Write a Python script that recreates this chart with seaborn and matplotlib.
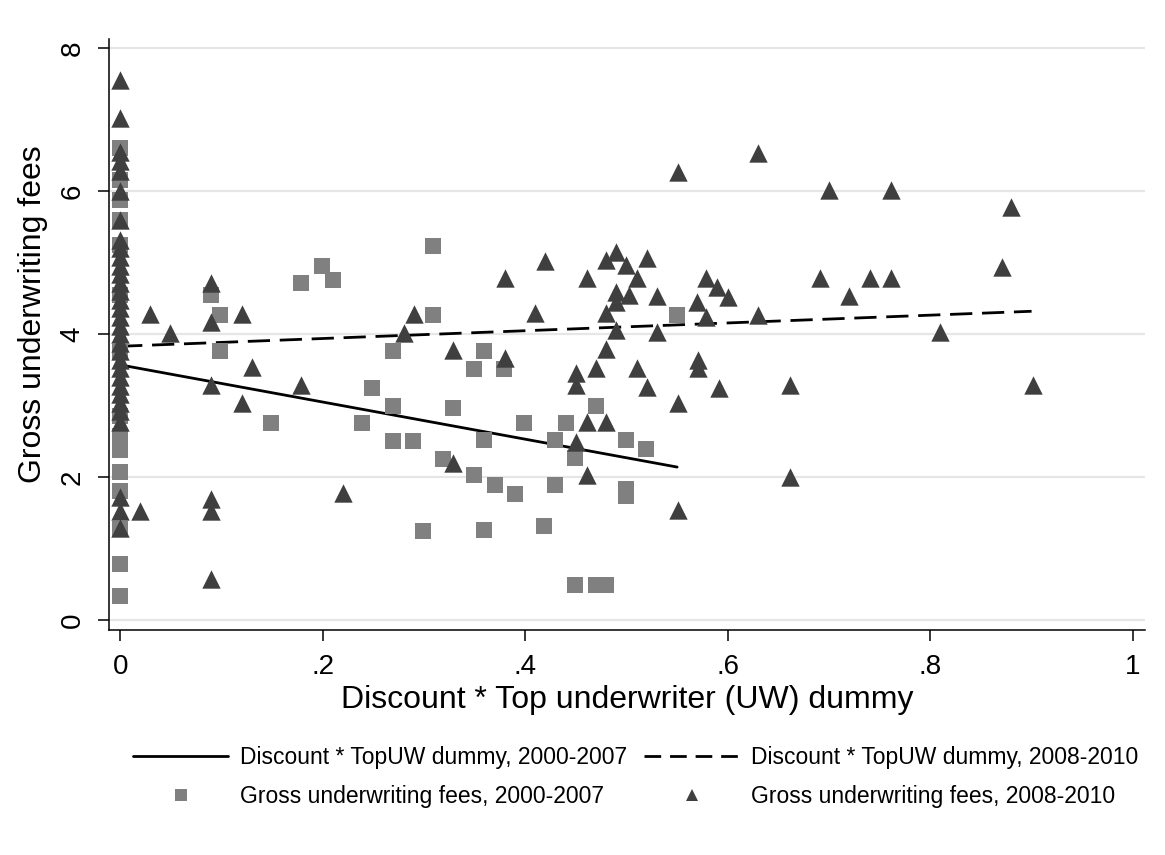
import matplotlib
matplotlib.use("Agg")
import matplotlib.pyplot as plt
import seaborn as sns
import numpy as np
import pandas as pd
from matplotlib.lines import Line2D

# ---------------- data ----------------
sq_x0_y = [6.6, 6.15, 5.88, 5.6, 5.25, 4.55, 3.75, 2.85, 2.58, 2.38, 2.07, 1.8, 1.27, 0.79, 0.33]
sq_x = [0.09, 0.099, 0.099, 0.149, 0.179, 0.199, 0.21, 0.239, 0.249, 0.269, 0.269, 0.269,
        0.289, 0.299, 0.309, 0.309, 0.319, 0.329, 0.349, 0.349, 0.359, 0.359, 0.359, 0.37,
        0.379, 0.39, 0.399, 0.419, 0.429, 0.429, 0.44, 0.449, 0.449, 0.47, 0.47, 0.48,
        0.5, 0.5, 0.5, 0.519, 0.55]
sq_y = [4.55, 4.27, 3.77, 2.75, 4.72, 4.95, 4.76, 2.75, 3.25, 3.77, 3.0, 2.51,
        2.51, 1.25, 5.23, 4.27, 2.25, 2.96, 3.51, 2.03, 3.77, 2.52, 1.26, 1.89,
        3.51, 1.76, 2.75, 1.31, 2.52, 1.89, 2.75, 2.26, 0.49, 3.0, 0.49, 0.49,
        2.52, 1.83, 1.73, 2.39, 4.27]

tri_x0_y = [7.56, 7.02, 6.55, 6.42, 6.28, 6.01, 5.6, 5.32, 5.2, 5.08, 4.96, 4.84, 4.72, 4.6,
            4.48, 4.36, 4.24, 4.12, 4.0, 3.88, 3.76, 3.64, 3.52, 3.4, 3.28, 3.16, 3.04, 2.92,
            2.77, 1.72, 1.52, 1.29]
tri_x = [0.02, 0.029, 0.049, 0.09, 0.09, 0.09, 0.09, 0.09, 0.09, 0.12, 0.12, 0.13, 0.179,
         0.22, 0.28, 0.29, 0.329, 0.329, 0.38, 0.38, 0.41, 0.42, 0.45, 0.45, 0.45, 0.461,
         0.461, 0.461, 0.47, 0.48, 0.48, 0.48, 0.48, 0.49, 0.49, 0.49, 0.49, 0.5, 0.502,
         0.51, 0.51, 0.52, 0.52, 0.53, 0.53, 0.551, 0.551, 0.551, 0.57, 0.571, 0.571, 0.579,
         0.579, 0.589, 0.591, 0.6, 0.63, 0.63, 0.661, 0.661, 0.691, 0.7, 0.72, 0.74, 0.761,
         0.761, 0.81, 0.871, 0.88, 0.901]
tri_y = [1.52, 4.28, 4.02, 4.71, 4.17, 3.29, 1.69, 1.52, 0.57, 4.28, 3.03, 3.54, 3.29,
         1.78, 4.02, 4.28, 3.78, 2.19, 4.78, 3.66, 4.29, 5.03, 3.45, 3.29, 2.49, 4.78,
         2.77, 2.03, 3.52, 5.04, 4.29, 3.79, 2.77, 5.15, 4.59, 4.45, 4.06, 4.97, 4.55,
         4.78, 3.52, 5.06, 3.26, 4.53, 4.03, 6.27, 3.03, 1.54, 4.45, 3.64, 3.53, 4.78,
         4.24, 4.66, 3.24, 4.52, 6.53, 4.27, 3.29, 2.0, 4.78, 6.02, 4.53, 4.78, 6.02,
         4.78, 4.03, 4.94, 5.78, 3.29]

fit1_x = [0.0, 0.55]
fit1_y = [3.57, 2.14]
fit2_x = [0.0, 0.9]
fit2_y = [3.83, 4.32]

xticks = [0, 0.2, 0.4, 0.6, 0.8, 1.0]
xticklabels = ["0", ".2", ".4", ".6", ".8", "1"]
yticks = [0, 2, 4, 6, 8]
yticklabels = ["0", "2", "4", "6", "8"]

lab_fit1 = "Discount * TopUW dummy, 2000-2007"
lab_fit2 = "Discount * TopUW dummy, 2008-2010"
lab_sq = "Gross underwriting fees, 2000-2007"
lab_tri = "Gross underwriting fees, 2008-2010"

# --------------- build frames ---------------
df_sq = pd.DataFrame({"x": [0.0] * len(sq_x0_y) + sq_x, "y": sq_x0_y + sq_y})
df_tri = pd.DataFrame({"x": [0.0] * len(tri_x0_y) + tri_x, "y": tri_x0_y + tri_y})

sns.set_style("white")
plt.rcParams["font.family"] = ["Liberation Sans", "DejaVu Sans"]
plt.rcParams["text.color"] = "black"
plt.rcParams["axes.labelcolor"] = "black"
plt.rcParams["xtick.color"] = "black"
plt.rcParams["ytick.color"] = "black"

W, H = 1165, 855
fig = plt.figure(figsize=(W / 100, H / 100), dpi=100)
ax = fig.add_axes([109 / W, (H - 630) / H, (1145 - 109) / W, (630 - 39) / H])

SQ_COL = "#808080"
TRI_COL = "#3f3f3f"

sns.lineplot(x=fit1_x, y=fit1_y, ax=ax, color="black", lw=2, zorder=2)
sns.lineplot(x=fit2_x, y=fit2_y, ax=ax, color="black", lw=2, zorder=2)
ax.lines[-1].set_dashes((8, 3.5))

sns.scatterplot(data=df_sq, x="x", y="y", ax=ax, marker="s", color=SQ_COL, s=130,
                linewidth=0, zorder=3)
sns.scatterplot(data=df_tri, x="x", y="y", ax=ax, marker="^", color=TRI_COL, s=175,
                linewidth=0, zorder=4)

ax.set_xlim(-0.011, 1.012)
ax.set_ylim(-0.14, 8.13)
ax.set_xticks(xticks)
ax.set_xticklabels(xticklabels)
ax.set_yticks(yticks)
ax.set_yticklabels(yticklabels, rotation=90, va="center")

ax.yaxis.grid(True, color="#e6e6e6", lw=1.6)
ax.xaxis.grid(False)
ax.set_axisbelow(True)

for s in ["top", "right"]:
    ax.spines[s].set_visible(False)
for s in ["left", "bottom"]:
    ax.spines[s].set_color("black")
    ax.spines[s].set_linewidth(1.1)

ax.tick_params(axis="both", which="major", direction="out", length=8, width=1.1,
               color="black", labelcolor="black", labelsize=20, pad=9, left=True, bottom=True)

ax.set_xlabel("Discount * Top underwriter (UW) dummy", fontsize=23, color="black")
ax.set_ylabel("Gross underwriting fees", fontsize=23, color="black")
ax.xaxis.set_label_coords(0.5, -0.093)
ax.yaxis.set_label_coords(-0.059, 0.535)

h_fit1 = Line2D([], [], color="black", lw=2)
h_fit2 = Line2D([], [], color="black", lw=2, dashes=(6, 3.2))
h_sq = Line2D([], [], color=SQ_COL, marker="s", ls="none", markersize=8, markeredgewidth=0)
h_tri = Line2D([], [], color=TRI_COL, marker="^", ls="none", markersize=9, markeredgewidth=0)

fig.legend([h_fit1, h_sq, h_fit2, h_tri], [lab_fit1, lab_sq, lab_fit2, lab_tri],
           ncol=2, loc="center", bbox_to_anchor=(636 / W, (H - 777) / H),
           frameon=False, fontsize=16.5, handlelength=4.15, handletextpad=0.52,
           columnspacing=0.74, labelspacing=0.7)

fig.savefig("out.png", dpi=100, facecolor="white")
